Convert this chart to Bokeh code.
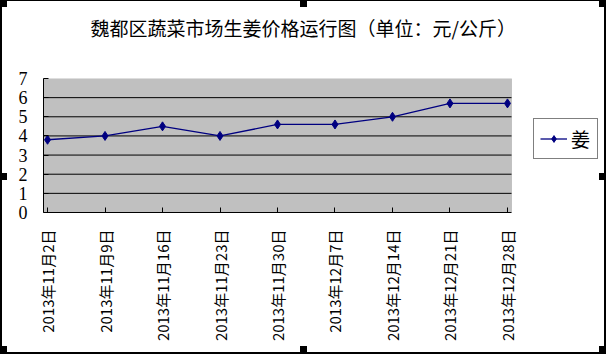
import math
from bokeh.plotting import figure
from bokeh.models import (FixedTicker, Legend, LegendItem, Range1d, InlineStyleSheet,
                          BoxAnnotation)
from bokeh.embed import file_html
from bokeh.resources import INLINE

# ---- data ----
dates = ["2013年11月2日", "2013年11月9日", "2013年11月16日", "2013年11月23日",
         "2013年11月30日", "2013年12月7日", "2013年12月14日", "2013年12月21日",
         "2013年12月28日"]
prices = [3.8, 4.0, 4.5, 4.0, 4.6, 4.6, 5.0, 5.7, 5.7]
y_ticks = [0, 1, 2, 3, 4, 5, 6, 7]
series_name = "姜"
title_text = "魏都区蔬菜市场生姜价格运行图（单位：元/公斤）"

xs = list(range(len(dates)))

# ---- layout (pixels) ----
W, H = 606, 356
left_px, area_right_px, top_px, bottom_px = 43, 511, 78, 212
pad = 0.07                                   # category padding at both ends
x_lo, x_hi = xs[0] - pad, xs[-1] + pad       # extent of the grey plot area
px_per_unit = (area_right_px - left_px) / (x_hi - x_lo)
frame_right_px = W                            # frame reaches the right edge so the legend fits
x_end = x_lo + (frame_right_px - left_px) / px_per_unit

# chart-object frame and selection handles (pure decoration, via CSS)
css = """
:host { position: relative; }
:host::before {
  content: ""; position: absolute; left: 0px; top: 0px;
  width: 606px; height: 354px; box-sizing: border-box;
  border: 2px solid black; border-top-width: 1px;
  pointer-events: none; z-index: 50;
}
:host::after {
  content: ""; position: absolute; left: 0px; top: 0px;
  width: 7px; height: 7px; background: black;
  pointer-events: none; z-index: 51;
  box-shadow: 300px 0 0 black, 599px 0 0 black,
              0 173px 0 black, 599px 173px 0 black,
              0 346px 0 black, 300px 346px 0 black, 599px 346px 0 black;
}
"""

p = figure(width=W, height=H, output_backend="svg", toolbar_location=None,
           x_range=Range1d(x_lo, x_end),
           y_range=Range1d(y_ticks[0], y_ticks[-1]),
           min_border_left=left_px, min_border_right=W - frame_right_px,
           min_border_top=top_px, min_border_bottom=H - bottom_px,
           background_fill_color="white", border_fill_color="white",
           outline_line_color=None,
           stylesheets=[InlineStyleSheet(css=css)])

# grey plot area
p.add_layout(BoxAnnotation(left=x_lo, right=x_hi, bottom=y_ticks[0], top=y_ticks[-1],
                           fill_color="#C0C0C0", fill_alpha=1,
                           line_color="#808080", line_width=1, level="underlay"))

# title
p.title.text = title_text
p.title.text_font = "Noto Sans CJK SC"
p.title.text_font_size = "19px"
p.title.text_font_style = "normal"
p.title.text_color = "black"
p.title.align = "left"
p.title.offset = 47
p.title.vertical_align = "bottom"
p.title.standoff = 10
p.title.padding = dict(left=0, right=0, top=0, bottom=33)

# axes
xa = p.xaxis[0]
xa.ticker = FixedTicker(ticks=xs)
xa.bounds = (x_lo, x_hi)
xa.major_label_overrides = {i: d for i, d in zip(xs, dates)}
xa.major_label_orientation = math.pi / 2
xa.major_label_text_font = "Noto Sans CJK SC"
xa.major_label_text_font_size = "15px"
xa.major_label_text_color = "black"
xa.major_label_standoff = 17
xa.major_tick_in = 5
xa.major_tick_out = 0
xa.minor_tick_line_color = None
xa.axis_line_color = "black"
xa.major_tick_line_color = "black"

ya = p.yaxis[0]
ya.ticker = FixedTicker(ticks=y_ticks)
ya.major_label_text_font = "Liberation Serif"
ya.major_label_text_font_size = "18px"
ya.major_label_text_color = "black"
ya.major_label_standoff = 16
ya.major_tick_in = 5
ya.major_tick_out = 0
ya.minor_tick_line_color = None
ya.axis_line_color = "black"
ya.major_tick_line_color = "black"

p.xgrid.grid_line_color = None
p.ygrid.grid_line_color = None
# horizontal gridlines limited to the grey plot area
p.segment(x0=[x_lo] * len(y_ticks[1:-1]), x1=[x_hi] * len(y_ticks[1:-1]),
          y0=y_ticks[1:-1], y1=y_ticks[1:-1], line_color="black", line_width=1)

# series
ln = p.line(xs, prices, line_color="#000080", line_width=1.3)
sc = p.scatter(xs, prices, marker="diamond", size=9,
               fill_color="#000080", line_color="#000080")

legend = Legend(items=[LegendItem(label=series_name, renderers=[ln, sc])],
                location=(533 - left_px, bottom_px - 159), border_line_color="black",
                border_line_width=1, background_fill_color="white",
                background_fill_alpha=1, label_text_font="Noto Sans CJK SC",
                label_text_font_size="19px", label_text_color="black",
                glyph_width=27, glyph_height=17, label_height=17,
                label_standoff=4, padding=6, spacing=0, margin=0)
p.add_layout(legend)

open("out.html", "w").write(file_html(p, INLINE))
